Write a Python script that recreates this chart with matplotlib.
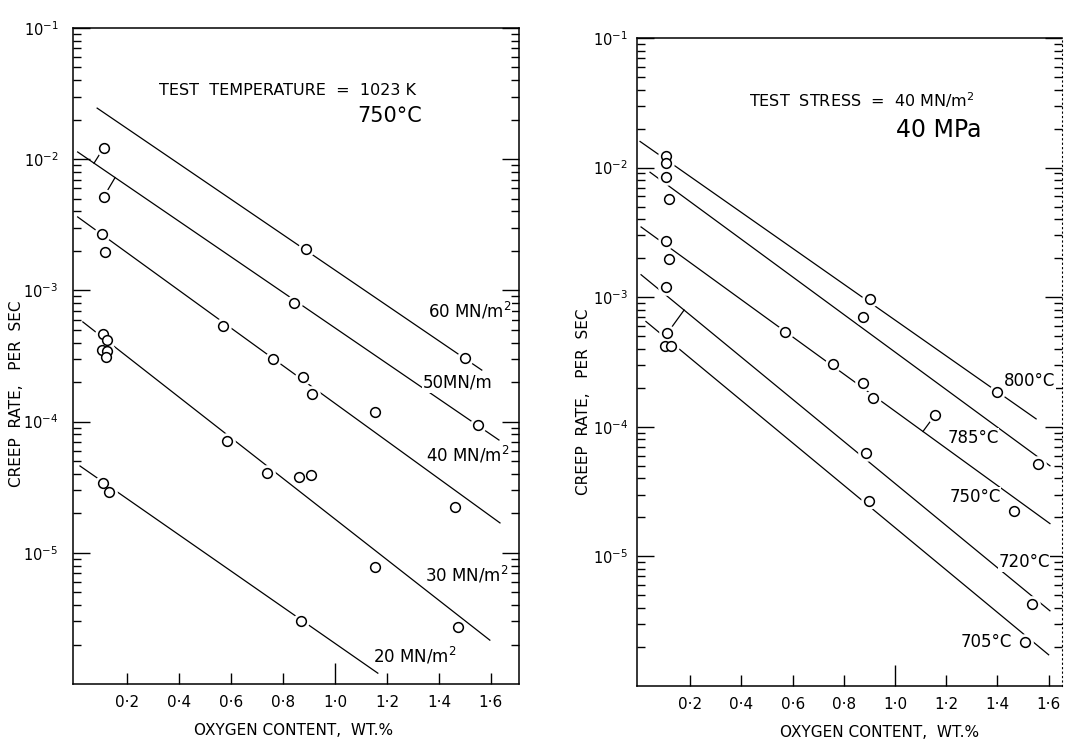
import numpy as np
import matplotlib
matplotlib.use('Agg')
import matplotlib.pyplot as plt
from matplotlib.ticker import FixedLocator, LogLocator, NullFormatter

plt.rcParams['font.family'] = ['DejaVu Sans']
plt.rcParams['mathtext.default'] = 'regular'

# ---- left panel: test temperature 1023 K, stress series ----
stress_labels = ['60 MN/m$^2$', '50MN/m', '40 MN/m$^2$', '30 MN/m$^2$', '20 MN/m$^2$']
stress_x = [
    [0.888, 1.50],
    [0.11, 0.11, 0.842, 1.549],
    [0.104, 0.115, 0.569, 0.76, 0.876, 0.913, 1.154, 1.462],
    [0.107, 0.123, 0.104, 0.123, 0.119, 0.583, 0.737, 0.862, 0.908, 1.156, 1.474],
    [0.108, 0.131, 0.869],
]
stress_rate = [
    [2.07e-3, 3.05e-4],
    [1.22e-2, 5.15e-3, 8.0e-4, 9.4e-5],
    [2.69e-3, 1.96e-3, 5.36e-4, 3.0e-4, 2.19e-4, 1.62e-4, 1.18e-4, 2.23e-5],
    [4.66e-4, 4.19e-4, 3.52e-4, 3.45e-4, 3.11e-4, 7.1e-5, 4.06e-5, 3.78e-5, 3.92e-5, 7.8e-6, 2.72e-6],
    [3.4e-5, 2.9e-5, 3.0e-6],
]
# fitted lines: (x start, x end, rate start, rate end)
stress_line_x = [(0.085, 1.565), (0.01, 1.631), (0.01, 1.635), (0.03, 1.596), (0.019, 1.165)]
stress_line_y = [(2.45e-2, 2.47e-4), (1.135e-2, 7.24e-5), (3.63e-3, 1.69e-5), (5.75e-4, 2.16e-6), (4.59e-5, 1.21e-6)]
# (series, point index, x where the leader meets the line)
stress_leaders = [(1, 0, 0.073), (1, 1, 0.154)]
stress_label_x = [1.52, 1.473, 1.512, 1.508, 1.308]
stress_label_y = [7.0e-4, 1.97e-4, 5.6e-5, 6.8e-6, 1.63e-6]

# ---- right panel: test stress 40 MN/m2, temperature series ----
temp_labels = ['800°C', '785°C', '750°C', '720°C', '705°C']
temp_x = [
    [0.105, 0.105, 0.902, 1.398],
    [0.105, 0.117, 0.875, 1.559],
    [0.105, 0.117, 0.57, 0.758, 0.875, 0.915, 1.156, 1.465],
    [0.105, 0.11, 0.887, 1.535],
    [0.10, 0.125, 0.898, 1.508],
]
temp_rate = [
    [1.22e-2, 1.08e-2, 9.75e-4, 1.85e-4],
    [8.4e-3, 5.7e-3, 7.08e-4, 5.17e-5],
    [2.72e-3, 1.98e-3, 5.43e-4, 3.03e-4, 2.17e-4, 1.66e-4, 1.23e-4, 2.25e-5],
    [1.2e-3, 5.25e-4, 6.3e-5, 4.28e-6],
    [4.17e-4, 4.17e-4, 2.69e-5, 2.19e-6],
]
temp_line_x = [(0.004, 1.551), (0.043, 1.605), (0.008, 1.605), (0.008, 1.605), (0.027, 1.60)]
temp_line_y = [(1.59e-2, 1.15e-4), (9.2e-3, 5.0e-5), (3.48e-3, 1.79e-5), (1.49e-3, 3.8e-6), (6.49e-4, 1.74e-6)]
temp_leaders = [(3, 1, 0.176), (2, 6, 1.109)]
temp_label_x = [1.527, 1.305, 1.3125, 1.504, 1.355]
temp_label_y = [2.24e-4, 8.2e-5, 2.89e-5, 9.0e-6, 2.19e-6]

xticks = [0.2, 0.4, 0.6, 0.8, 1.0, 1.2, 1.4, 1.6]
xtick_labels = ['0·2', '0·4', '0·6', '0·8', '1·0', '1·2', '1·4', '1·6']
decades = [1e-5, 1e-4, 1e-3, 1e-2, 1e-1]
decade_labels = ['$10^{-5}$', '$10^{-4}$', '$10^{-3}$', '$10^{-2}$', '$10^{-1}$']


def line_value(lx, ly, x):
    t = (x - lx[0]) / (lx[1] - lx[0])
    return 10 ** (np.log10(ly[0]) + t * (np.log10(ly[1]) - np.log10(ly[0])))


def draw_panel(ax, xs, ys, lxs, lys, leaders, xlim, ylabpad):
    ax.set_yscale('log')
    for lx, ly in zip(lxs, lys):
        ax.plot(lx, ly, color='black', lw=0.9, zorder=2)
    for s, i, tx in leaders:
        ax.plot([xs[s][i], tx], [ys[s][i], line_value(lxs[s], lys[s], tx)],
                color='black', lw=0.9, zorder=2)
    for x, y in zip(xs, ys):
        ax.plot(x, y, 'o', ms=12, mfc='white', mec='none', zorder=3)
        ax.plot(x, y, 'o', ms=7, mfc='white', mec='black', mew=1.1, zorder=4)
    ax.set_xlim(*xlim)
    ax.set_ylim(1e-6, 1e-1)
    ax.xaxis.set_major_locator(FixedLocator(xticks))
    ax.set_xticklabels(xtick_labels)
    ax.yaxis.set_major_locator(FixedLocator(decades))
    ax.set_yticklabels(decade_labels)
    ax.yaxis.set_minor_locator(LogLocator(base=10, subs=np.arange(2, 10)))
    ax.yaxis.set_minor_formatter(NullFormatter())
    ax.tick_params(axis='y', which='major', direction='in', left=True, right=True,
                   length=12, width=1.0, labelsize=10.5, pad=ylabpad)
    ax.tick_params(axis='y', which='minor', direction='in', left=True, right=True,
                   length=6, width=1.0)
    ax.tick_params(axis='x', which='major', direction='in', bottom=True, top=False,
                   length=8, width=1.0, labelsize=11, pad=8)
    ax.tick_params(axis='x', which='minor', bottom=False)
    ax.xaxis.get_major_ticks()[4].tick1line.set_markersize(15)
    for sp in ax.spines.values():
        sp.set_linewidth(1.1)
    ax.set_xlabel('OXYGEN CONTENT,  WT.%', fontsize=11)
    ax.set_ylabel('CREEP  RATE,   PER  SEC', fontsize=11)


fig = plt.figure(figsize=(10.7, 7.44), dpi=100)
ax1 = fig.add_axes([0.0682, 0.0806, 0.4168, 0.8818])
ax2 = fig.add_axes([0.5953, 0.078, 0.3972, 0.871])

draw_panel(ax1, stress_x, stress_rate, stress_line_x, stress_line_y, stress_leaders, (-0.008, 1.708), 10.5)
draw_panel(ax2, temp_x, temp_rate, temp_line_x, temp_line_y, temp_leaders, (-0.008, 1.652), 6.5)
ax2.spines['right'].set_linestyle((0, (1, 3)))
ax2.spines['right'].set_linewidth(0.8)

ax1.xaxis.set_label_coords(0.495, -0.059)
ax1.yaxis.set_label_coords(-0.11, 0.442)
ax2.xaxis.set_label_coords(0.57, -0.060)
ax2.yaxis.set_label_coords(-0.108, 0.438)

# left panel annotations
ax1.text(0.48, 0.905, 'TEST  TEMPERATURE  =  1023 K', transform=ax1.transAxes,
         ha='center', va='center', fontsize=11.5)
ax1.text(0.711, 0.866, '750°C', transform=ax1.transAxes, ha='center', va='center', fontsize=15)
for x, y, t in zip(stress_label_x, stress_label_y, stress_labels):
    ax1.text(x, y, t, ha='center', va='center', fontsize=12, zorder=5,
             bbox=dict(facecolor='white', edgecolor='none', pad=0.5))

# right panel annotations
ax2.text(0.529, 0.904, 'TEST  STRESS  =  40 MN/m$^2$', transform=ax2.transAxes,
         ha='center', va='center', fontsize=11.5)
ax2.text(0.711, 0.858, '40 MPa', transform=ax2.transAxes, ha='center', va='center', fontsize=17)
for x, y, t in zip(temp_label_x, temp_label_y, temp_labels):
    ax2.text(x, y, t, ha='center', va='center', fontsize=12, zorder=5,
             bbox=dict(facecolor='white', edgecolor='none', pad=0.5))

fig.savefig('out.png', dpi=100)
